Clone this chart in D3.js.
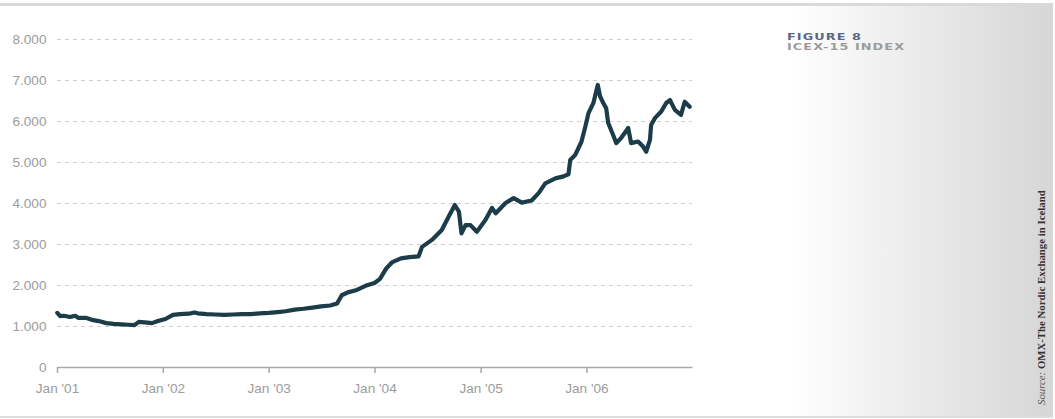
<!DOCTYPE html>
<html><head><meta charset="utf-8">
<script src="https://cdn.jsdelivr.net/npm/d3@7"></script>
<style>
html,body{margin:0;padding:0;background:#fff;}
svg{display:block;}
</style></head>
<body>
<svg id="chart" width="1055" height="419"></svg>
<script>
// ---- data ----
const dates = [
 "2001-01-02","2001-01-12","2001-01-25","2001-02-15","2001-03-05","2001-03-15","2001-04-10","2001-05-01","2001-05-25","2001-06-20",
 "2001-07-15","2001-08-10","2001-09-05","2001-09-25","2001-10-10","2001-10-30","2001-11-25","2001-12-15",
 "2002-01-10","2002-02-05","2002-03-01","2002-04-01","2002-04-20","2002-05-01","2002-06-01","2002-07-01","2002-08-01",
 "2002-09-01","2002-10-01","2002-11-01","2002-12-01","2003-01-01","2003-02-01","2003-03-01","2003-04-01",
 "2003-05-01","2003-06-01","2003-07-01","2003-08-01","2003-08-25","2003-09-10","2003-10-01","2003-11-01",
 "2003-12-01","2004-01-01","2004-01-20","2004-02-10","2004-03-01","2004-04-01","2004-05-01","2004-06-01",
 "2004-06-13","2004-07-17","2004-08-20","2004-09-13","2004-10-04","2004-10-18","2004-10-27","2004-11-10",
 "2004-11-27","2004-12-19","2005-01-18","2005-02-09","2005-02-22","2005-03-28","2005-04-25","2005-05-23",
 "2005-06-26","2005-07-20","2005-08-12","2005-09-16","2005-10-14","2005-10-31","2005-11-06","2005-11-23",
 "2005-12-15","2005-12-28","2006-01-08","2006-01-25","2006-02-09","2006-02-17","2006-02-28","2006-03-10",
 "2006-03-17","2006-04-03","2006-04-14","2006-05-01","2006-05-25","2006-06-04","2006-06-28","2006-07-16",
 "2006-07-26","2006-08-08","2006-08-12","2006-08-25","2006-09-16","2006-10-03","2006-10-16","2006-11-02",
 "2006-11-23","2006-12-06","2006-12-23"
];
const values = [
 1320,1240,1250,1220,1250,1200,1200,1150,1120,1070,
 1050,1040,1030,1020,1100,1090,1070,1120,
 1170,1270,1290,1300,1330,1310,1290,1280,1270,
 1280,1290,1290,1310,1320,1340,1360,1400,
 1420,1450,1480,1500,1550,1750,1820,1880,
 1980,2050,2150,2400,2550,2650,2680,2700,
 2930,3100,3340,3670,3950,3790,3260,3460,
 3460,3300,3590,3880,3750,4000,4120,4010,
 4060,4240,4480,4600,4650,4700,5050,5170,
 5500,5860,6190,6440,6880,6600,6440,6310,
 5950,5660,5460,5590,5830,5460,5500,5370,
 5250,5540,5900,6070,6230,6440,6510,6270,
 6150,6470,6350
];
const yTicks = [0,1000,2000,3000,4000,5000,6000,7000,8000];
const xTickDates = ["2001-01-01","2002-01-01","2003-01-01","2004-01-01","2005-01-01","2006-01-01"];
const xTickLabels = ["Jan '01","Jan '02","Jan '03","Jan '04","Jan '05","Jan '06"];
const titleLines = ["FIGURE 8","ICEX-15 INDEX"];
const sourceLabel = "Source:";
const sourceText = " OMX-The Nordic Exchange in Iceland";

// ---- drawing ----
const parse = d3.timeParse("%Y-%m-%d");
const series = dates.map((d,i)=>({date:parse(d), value:values[i]}));
const svg = d3.select("#chart");

const defs = svg.append("defs");
const grad = defs.append("linearGradient").attr("id","panelGrad").attr("x1","0").attr("x2","1").attr("y1","0").attr("y2","0");
grad.append("stop").attr("offset","0").attr("stop-color","#ffffff");
grad.append("stop").attr("offset","0.4").attr("stop-color","#eeeeee");
grad.append("stop").attr("offset","1").attr("stop-color","#d6d6d6");

// right gradient panel
svg.append("rect").attr("x",790).attr("y",6).attr("width",263).attr("height",410).attr("fill","url(#panelGrad)");
// top & bottom rules
svg.append("rect").attr("x",0).attr("y",3).attr("width",1053).attr("height",3).attr("fill","#d9d9d9");
svg.append("rect").attr("x",0).attr("y",416).attr("width",1053).attr("height",2).attr("fill","#dcdcdc");

const x = d3.scaleTime().domain([parse("2001-01-01"), parse("2006-12-31")]).range([57, 692]);
const y = d3.scaleLinear().domain([0, 8000]).range([367, 39]);

const loc = d3.formatLocale({decimal:",", thousands:".", grouping:[3], currency:["",""]});
const fmt = loc.format(",");

// gridlines
svg.append("g").selectAll("line").data(yTicks.filter(v=>v>0)).join("line")
  .attr("x1",57).attr("x2",692)
  .attr("y1",d=>y(d)+0.5).attr("y2",d=>y(d)+0.5)
  .attr("stroke","#cfcfcf").attr("stroke-width",1).attr("stroke-dasharray","4,4");

// y labels
svg.append("g").selectAll("text").data(yTicks).join("text")
  .attr("x",46.5).attr("y",d=>y(d)).attr("dy","0.36em")
  .attr("text-anchor","end")
  .attr("font-family","'Liberation Sans', Arial, sans-serif").attr("font-size","13.6px")
  .attr("fill","#9c9c9c").text(d=>fmt(d));

// x axis
const xAxis = d3.axisBottom(x)
  .tickValues(xTickDates.map(parse))
  .tickFormat((d,i)=>xTickLabels[i])
  .tickSize(6).tickSizeOuter(0).tickPadding(10);
const gx = svg.append("g").attr("transform","translate(0,367)").call(xAxis);
gx.select(".domain").attr("stroke","#a8a8a8").attr("stroke-width",1.5);
gx.selectAll(".tick line").attr("stroke","#a8a8a8").attr("stroke-width",1.5);
gx.selectAll(".tick text").attr("font-family","'Liberation Sans', Arial, sans-serif")
  .attr("font-size","13.6px").attr("fill","#9c9c9c");

// line
const line = d3.line().x(d=>x(d.date)).y(d=>y(d.value)).curve(d3.curveLinear);
svg.append("path").datum(series).attr("d",line)
  .attr("fill","none").attr("stroke","#1b3c48").attr("stroke-width",4.2)
  .attr("stroke-linejoin","round").attr("stroke-linecap","round");

// title
const t = svg.append("text").attr("font-family","'DejaVu Sans', Verdana, sans-serif")
  .attr("font-weight","bold").attr("font-size","9.5px")
  .attr("transform","translate(787,0) scale(1.35,1)");
t.append("tspan").attr("x",0).attr("y",40).attr("fill","#5b6685").attr("letter-spacing","0.8px").text(titleLines[0]);
t.append("tspan").attr("x",0).attr("y",50).attr("fill","#9b9b9b").attr("letter-spacing","0.8px").text(titleLines[1]);

// source (rotated)
const s = svg.append("text").attr("transform","translate(1045,405) rotate(-90)")
  .attr("font-family","'Liberation Serif', 'Times New Roman', serif").attr("font-size","10.8px").attr("fill","#333");
s.append("tspan").attr("font-style","italic").attr("fill","#555").text(sourceLabel);
s.append("tspan").attr("font-weight","bold").text(sourceText);
</script>
</body></html>
